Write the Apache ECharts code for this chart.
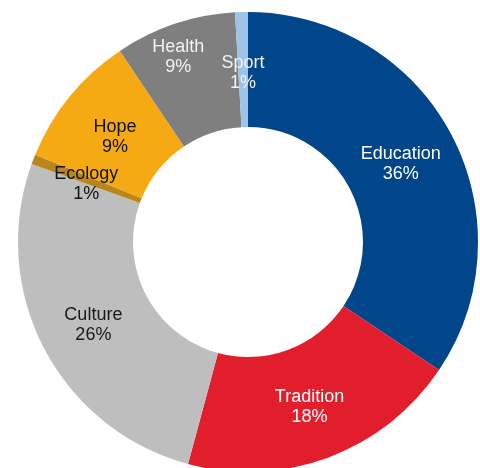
<!DOCTYPE html>
<html>
<head>
<meta charset="utf-8">
<script src="https://cdn.jsdelivr.net/npm/echarts@6/dist/echarts.min.js"></script>
<style>
html,body{margin:0;padding:0;background:#fff;}
#chart{width:480px;height:468px;}
</style>
</head>
<body>
<div id="chart"></div>
<script>
// Slices in clockwise order starting at 12 o'clock
var categories = ['Education', 'Tradition', 'Culture', 'Ecology', 'Hope', 'Health', 'Sport'];
// Slice sizes (share of the ring)
var values = [34.4, 19.8, 26.3, 0.7, 9.4, 8.5, 0.9];
// Percent labels as printed on the chart
var labelTexts = ['36%', '18%', '26%', '1%', '9%', '9%', '1%'];

var colors = ['#01458A', '#E31E2C', '#BEBEBE', '#B8871A', '#F5A913', '#7F7F7F', '#9DC3E6'];
var textColors = ['#ffffff', '#ffffff', '#1a1a1a', '#111111', '#111111', '#f2f2f2', '#f2f2f2'];

var data = categories.map(function (name, i) {
  return {
    name: name,
    value: values[i],
    itemStyle: { color: colors[i] },
    label: { color: textColors[i] }
  };
});

var chart = echarts.init(document.getElementById('chart'), null, { renderer: 'canvas' });
chart.setOption({
  animation: false,
  backgroundColor: '#ffffff',
  series: [{
    type: 'pie',
    center: [248, 242],
    radius: [115, 230],
    startAngle: 90,
    clockwise: true,
    avoidLabelOverlap: false,
    silent: true,
    itemStyle: { borderWidth: 0 },
    label: {
      show: true,
      position: 'inside',
      fontFamily: 'Liberation Sans, Arial, sans-serif',
      fontSize: 18,
      lineHeight: 20,
      align: 'center',
      formatter: function (p) {
        return p.name + '\n' + labelTexts[p.dataIndex];
      }
    },
    labelLine: { show: false },
    labelLayout: function (p) {
      var nudge = [[-2, 5], [0, 1], [1, 2], [2, 5], [3, 6], [-14, -19], [0, 6]];
      var n = nudge[p.dataIndex] || [0, 0];
      return { dx: n[0], dy: n[1] };
    },
    data: data
  }]
});
</script>
</body>
</html>
